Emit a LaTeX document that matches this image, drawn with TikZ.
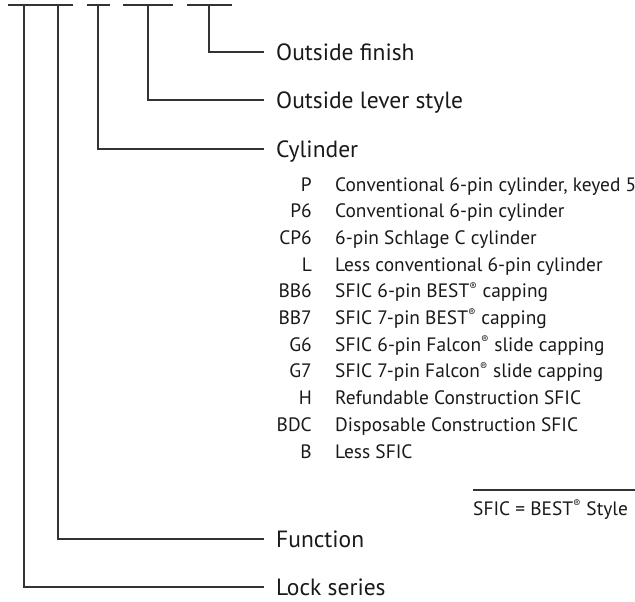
\documentclass[tikz,border=0pt]{standalone}
\usepackage{fontspec}
\setmainfont{PT Sans}
\newcommand\regmark{\textsuperscript{\scalebox{0.8}{®}}}
\begin{document}
\begin{tikzpicture}[x=1pt,y=-1pt,
  ln/.style={line width=1.1pt, draw=black!80},
  big/.style={font=\fontsize{23.5}{27}\selectfont, text=black!90, inner sep=0pt, anchor=base west},
  code/.style={font=\fontsize{19.4}{23}\selectfont, text=black!90, inner sep=0pt, anchor=base east},
  desc/.style={font=\fontsize{19.4}{23}\selectfont, text=black!90, inner sep=0pt, anchor=base west}]
\useasboundingbox (0,0) rectangle (635,602);
% top bars
\coordinate (a1) at (8,5);   \coordinate (a2) at (73,5);
\coordinate (b1) at (87,5);  \coordinate (b2) at (110,5);
\coordinate (c1) at (123,5); \coordinate (c2) at (173,5);
\coordinate (f1) at (187,5); \coordinate (f2) at (232,5);
\draw[ln] (a1) -- (a2);
\draw[ln] (b1) -- (b2);
\draw[ln] (c1) -- (c2);
\draw[ln] (f1) -- (f2);
% branch tops
\coordinate (tLock) at (24,5);
\coordinate (tFunc) at (58,5);
\coordinate (tCyl) at (98,5);
\coordinate (tLev) at (148,5);
\coordinate (tFin) at (209,5);
% branch ends
\coordinate (eFin) at (264,52);
\coordinate (eLev) at (264,100);
\coordinate (eCyl) at (264,149);
\coordinate (eFunc) at (264,539);
\coordinate (eLock) at (264,587);
% labels
\node[big] (lFin) at (276,60.5) {Outside finish};
\node[big] (lLev) at (276,108.5) {Outside lever style};
\node[big] (lCyl) at (276,157.5) {Cylinder};
\node[big] (lFunc) at (276,547.5) {Function};
\node[big] (lLock) at (276,595.5) {Lock series};
% connectors
\draw[ln] (tFin) |- (eFin);
\draw[ln] (tLev) |- (eLev);
\draw[ln] (tCyl) |- (eCyl);
\draw[ln] (tFunc) |- (eFunc);
\draw[ln] (tLock) |- (eLock);
% list
\foreach \i/\c/\d in {0/P/{Conventional 6-pin cylinder, keyed 5},
  1/P6/{Conventional 6-pin cylinder},
  2/CP6/{6-pin Schlage C cylinder},
  3/L/{Less conventional 6-pin cylinder},
  4/BB6/{SFIC 6-pin BEST\regmark\ capping},
  5/BB7/{SFIC 7-pin BEST\regmark\ capping},
  6/G6/{SFIC 6-pin Falcon\regmark\ slide capping},
  7/G7/{SFIC 7-pin Falcon\regmark\ slide capping},
  8/H/{Refundable Construction SFIC},
  9/BDC/{Disposable Construction SFIC},
  10/B/{Less SFIC}}{
  \node[code] (code\i) at (312,191+26.7*\i) {\c};
  \node[desc] (desc\i) at (335,191+26.7*\i) {\d};
}
% footnote
\coordinate (n1) at (473,490);
\coordinate (n2) at (635,490);
\draw[ln] (n1) -- (n2);
\node[desc] (note) at (473,515) {SFIC = BEST\regmark\ Style};
\end{tikzpicture}
\end{document}
